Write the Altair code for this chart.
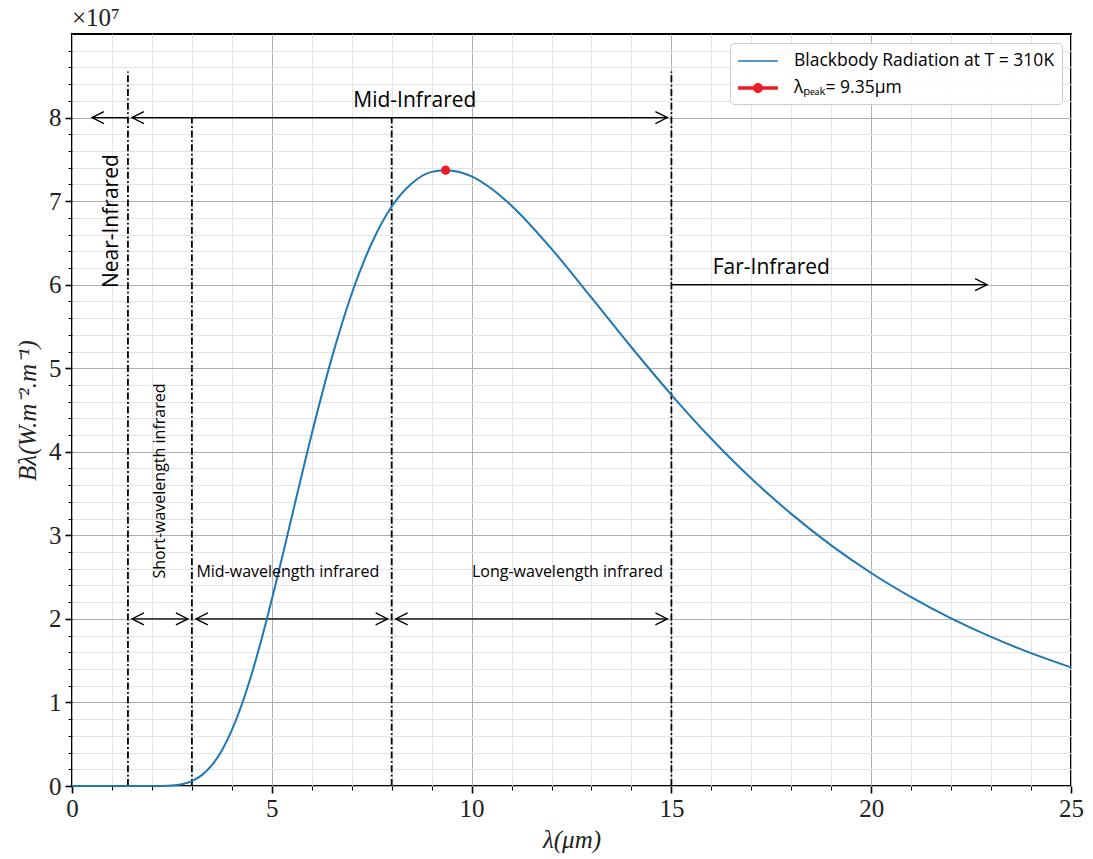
import altair as alt
import pandas as pd

# ---- curve (units of 1e7 W.m^-2.m^-1) ----
wavelength_um = [0, 1, 2, 2.5, 2.75, 3, 3.25, 3.5, 3.75, 4, 4.25, 4.5, 4.75, 5, 5.25, 5.5,
                 6, 6.5, 7, 7.5, 8, 8.5, 9, 9.35, 10, 10.5, 11, 12, 13, 14, 15, 16, 17,
                 18, 19, 20, 21, 22, 23, 24, 25]
radiance_e7 = [0, 0, 0.0002, 0.0067, 0.022, 0.059, 0.130, 0.249, 0.426, 0.669, 0.977, 1.347,
               1.769, 2.231, 2.720, 3.222, 4.214, 5.121, 5.891, 6.496, 6.935, 7.211, 7.350,
               7.370, 7.297, 7.148, 6.945, 6.429, 5.844, 5.251, 4.682, 4.156, 3.680, 3.257,
               2.880, 2.549, 2.260, 2.006, 1.784, 1.590, 1.420]

peak_wavelength = [9.35]
peak_radiance = [7.37]

series_names = ["Blackbody Radiation at T = 310K", "λₚₑₐₖ= 9.35μm"]
series_colors = ["#1f77b4", "#ee1c25"]

# region boundaries (dash-dot verticals)
bound_x = [1.4, 3.0, 8.0, 15.0]
bound_top = [8.55, 8.0, 8.0, 8.55]

# arrows
arrow_start = [0.5, 1.5, 15.0, 1.5, 3.1, 8.1]
arrow_end = [1.4, 14.9, 22.9, 2.9, 7.9, 14.9]
arrow_level = [8, 8, 6, 2, 2, 2]
left_head_x = [0.5, 1.5, 1.5, 3.1, 8.1]
left_head_y = [8, 8, 2, 2, 2]
right_head_x = [14.9, 22.9, 2.9, 7.9, 14.9]
right_head_y = [8, 6, 2, 2, 2]

# labels
big_text = ["Mid-Infrared", "Far-Infrared"]
big_x = [8.58, 17.5]
big_y = [8.2, 6.2]
big_rot_text = ["Near-Infrared"]
big_rot_x = [1.0]
big_rot_y = [6.76]
small_text = ["Mid-wavelength infrared", "Long-wavelength infrared"]
small_x = [5.4, 12.4]
small_y = [2.56] * 2
small_rot_text = ["Short-wavelength infrared"]
small_rot_x = [2.2]
small_rot_y = [3.65]

x_ticks = list(range(0, 26))
y_ticks = [round(i * 0.2, 1) for i in range(45)]

SERIF = "Liberation Serif"
SANS = "Open Sans"

curve_df = pd.DataFrame({"x": wavelength_um, "y": radiance_e7})
peak_df = pd.DataFrame({"x": peak_wavelength, "y": peak_radiance})
bound_df = pd.DataFrame({"x": bound_x, "y": [0] * len(bound_x), "y2": bound_top})
arrow_df = pd.DataFrame({"x": arrow_start, "x2": arrow_end, "y": arrow_level})
lh_df = pd.DataFrame({"x": left_head_x, "y": left_head_y})
rh_df = pd.DataFrame({"x": right_head_x, "y": right_head_y})
legend_df = pd.DataFrame({"x": [-5, -5], "y": [-5, -5], "s": series_names})

xscale = alt.Scale(domain=[0, 25], nice=False, zero=False)
yscale = alt.Scale(domain=[0, 9], nice=False, zero=False)

MAJOR_Y = "abs(datum.value - round(datum.value)) < 0.001"

xaxis = alt.Axis(
    values=x_ticks,
    labelExpr="datum.value % 5 === 0 ? datum.label : ''",
    title="λ(μm)",
    grid=True,
    gridColor={"condition": {"test": "datum.value % 5 === 0", "value": "#b0b0b0"}, "value": "#e4e4e4"},
    gridWidth=1,
    tickSize={"condition": {"test": "datum.value % 5 === 0", "value": 7}, "value": 4},
    tickWidth={"condition": {"test": "datum.value % 5 === 0", "value": 1.6}, "value": 1.1},
    tickColor="black",
    domain=False,
    labelFont=SERIF, labelFontSize=25, labelColor="#222", labelPadding=3,
    labelOverlap=False, labelFlush=False,
    titleFont=SERIF, titleFontSize=25, titleFontStyle="italic", titleFontWeight="normal",
    titleColor="#222", titlePadding=6,
)
yaxis = alt.Axis(
    values=y_ticks,
    labelExpr=f"{MAJOR_Y} ? '' + round(datum.value) : ''",
    title="Bλ(W.m⁻².m⁻¹)",
    grid=True,
    gridColor={"condition": {"test": MAJOR_Y, "value": "#b0b0b0"}, "value": "#e4e4e4"},
    gridWidth=1,
    tickSize={"condition": {"test": MAJOR_Y, "value": 7}, "value": 4},
    tickWidth={"condition": {"test": MAJOR_Y, "value": 1.6}, "value": 1.1},
    tickColor="black",
    domain=False,
    labelFont=SERIF, labelFontSize=25, labelColor="#222", labelPadding=4,
    labelOverlap=False, labelFlush=False, labelBaseline="middle",
    titleFont=SERIF, titleFontSize=25, titleFontStyle="italic", titleFontWeight="normal",
    titleColor="#222", titlePadding=8,
)


def X(field="x"):
    return alt.X(f"{field}:Q", scale=xscale, axis=xaxis)


def Y(field="y"):
    return alt.Y(f"{field}:Q", scale=yscale, axis=yaxis)


bounds = alt.Chart(bound_df).mark_rule(color="black", strokeWidth=1.8, strokeDash=[7, 2.5, 1.8, 2.5]).encode(
    x=X(), y=Y(), y2="y2:Q")

curve = alt.Chart(curve_df).mark_line(color=series_colors[0], strokeWidth=2, interpolate="monotone").encode(
    x=X(), y=Y())

peak = alt.Chart(peak_df).mark_circle(color=series_colors[1], size=85, opacity=1).encode(x=X(), y=Y())

arrows = alt.Chart(arrow_df).mark_rule(color="black", strokeWidth=1.3).encode(x=X(), x2="x2:Q", y=Y())

lheads = alt.Chart(lh_df).mark_point(shape="M 2 -1 L 0 0 L 2 1", size=144, filled=False,
                                     color="black", strokeWidth=1.3, opacity=1).encode(x=X(), y=Y())
rheads = alt.Chart(rh_df).mark_point(shape="M -2 -1 L 0 0 L -2 1", size=144, filled=False,
                                     color="black", strokeWidth=1.3, opacity=1).encode(x=X(), y=Y())

big = alt.Chart(pd.DataFrame({"x": big_x, "y": big_y, "t": big_text})).mark_text(
    font=SANS, fontSize=21, color="black", align="center", baseline="middle").encode(x=X(), y=Y(), text="t:N")
big_rot = alt.Chart(pd.DataFrame({"x": big_rot_x, "y": big_rot_y, "t": big_rot_text})).mark_text(
    font=SANS, fontSize=21, color="black", align="center", baseline="middle", angle=270).encode(x=X(), y=Y(), text="t:N")
small = alt.Chart(pd.DataFrame({"x": small_x, "y": small_y, "t": small_text})).mark_text(
    font=SANS, fontSize=16, color="black", align="center", baseline="middle").encode(x=X(), y=Y(), text="t:N")
small_rot = alt.Chart(pd.DataFrame({"x": small_rot_x, "y": small_rot_y, "t": small_rot_text})).mark_text(
    font=SANS, fontSize=16, color="black", align="center", baseline="middle", angle=270).encode(x=X(), y=Y(), text="t:N")

blue_path = "M-2,-0.08H2V0.08H-2Z"
red_path = "M-2,-0.17H2V0.17H-2Z M0.5,0 A0.5,0.5 0 1 1 -0.5,0 A0.5,0.5 0 1 1 0.5,0 Z"

legend_layer = alt.Chart(legend_df).mark_point(filled=True, clip=True, opacity=1, strokeWidth=0).encode(
    x=X(), y=Y(),
    color=alt.Color("s:N", scale=alt.Scale(domain=series_names, range=series_colors),
                    legend=alt.Legend(title=None, orient="top-right", offset=9)),
    shape=alt.Shape("s:N", scale=alt.Scale(domain=series_names, range=[blue_path, red_path]),
                    legend=alt.Legend(title=None, orient="top-right", offset=9)),
)

chart = alt.layer(bounds, arrows, lheads, rheads, curve, peak, big, big_rot, small, small_rot, legend_layer).properties(
    width=999, height=752,
    title=alt.TitleParams("×10⁷", anchor="start", frame="group", font=SERIF, fontSize=25,
                          fontWeight="normal", color="#222", offset=3),
    padding={"left": 72, "top": 34, "right": 22, "bottom": 73},
    autosize=alt.AutoSizeParams(type="none"),
).configure_view(stroke="black", strokeWidth=2).configure_legend(
    fillColor="rgba(255,255,255,0.85)", strokeColor="#cccccc", cornerRadius=4, padding=7,
    labelFont=SANS, labelFontSize=17.5, labelColor="black", labelLimit=500, symbolSize=400,
    symbolOffset=10, labelOffset=25, rowPadding=7,
)

chart.save("out.html", embed_options={"renderer": "svg", "actions": False})
